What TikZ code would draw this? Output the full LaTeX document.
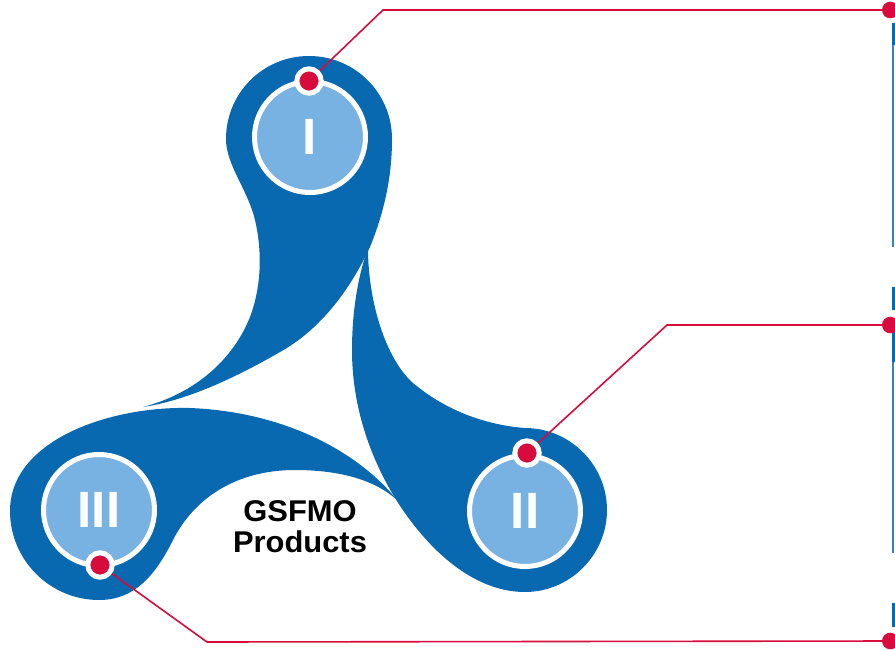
\documentclass[tikz,border=0pt]{standalone}
\usepackage{fontspec}
\setmainfont{Liberation Sans}
\definecolor{dblue}{HTML}{0869B0}
\definecolor{lblue}{HTML}{78B2E3}
\definecolor{rred}{HTML}{D80C3C}
\definecolor{tblue}{HTML}{3583C6}
\begin{document}
\begin{tikzpicture}[x=1pt,y=-1pt,
  drop/.style={fill=dblue},
  numc/.style={circle,fill=lblue,draw=white,line width=5pt,minimum size=111pt,inner sep=0pt,text=white,font=\fontsize{51}{51}\selectfont\bfseries},
  reddot/.style={circle,fill=rred,draw=white,line width=5pt,minimum size=24.4pt,inner sep=0pt},
  enddot/.style={circle,fill=rred,minimum size=16.6pt,inner sep=0pt},
  leader/.style={draw=rred,line width=1.6pt},
  lbl/.style={font=\fontsize{30}{30}\selectfont\bfseries,anchor=base,inner sep=0pt},
  thickbar/.style={fill=dblue},
  thinbar/.style={fill=tblue}]
\useasboundingbox (0,0) rectangle (895,649);
% teardrop I
\fill[drop] (143,407) .. controls (200,392) and (235,355) .. (250,317)
  .. controls (262,285) and (262,250) .. (255,220)
  .. controls (248,190) and (226,165) .. (226,139)
  .. controls (226,93) and (263,56) .. (309,56)
  .. controls (355,56) and (392,93) .. (392,139)
  .. controls (392,180) and (383,215) .. (370,247)
  .. controls (350,290) and (320,330) .. (280,352)
  .. controls (240,375) and (190,400) .. (143,407) -- cycle;
% teardrop II
\fill[drop] (368,248) .. controls (368,300) and (385,358) .. (413,383)
  .. controls (445,410) and (485,425) .. (525,428)
  .. controls (570,428) and (607,465) .. (607,510)
  .. controls (607,555) and (570,592) .. (525,592)
  .. controls (480,592) and (440,560) .. (410,520)
  .. controls (380,480) and (352,420) .. (352,350)
  .. controls (352,305) and (360,270) .. (368,248) -- cycle;
% teardrop III
\fill[drop] (397,500) .. controls (362,456) and (290,412) .. (190,408)
  .. controls (110,406) and (10,440) .. (10,511)
  .. controls (10,560) and (50,600) .. (99,600)
  .. controls (135,600) and (155,575) .. (172,542)
  .. controls (195,495) and (240,470) .. (295,470)
  .. controls (340,470) and (375,480) .. (397,500) -- cycle;
% right edge bars
\fill[thickbar] (892,23) rectangle (895,45);
\fill[thinbar] (892.3,45) rectangle (894.3,247);
\fill[thickbar] (892,287) rectangle (895,310);
\fill[thickbar] (892,332) rectangle (895,362);
\fill[thinbar] (892.3,362) rectangle (894.3,553);
\fill[thickbar] (892,603) rectangle (895,627);
% anchor points
\coordinate (p1) at (309,81);
\coordinate (k1) at (383,10);
\coordinate (q1) at (890.3,10);
\coordinate (p2) at (527,453);
\coordinate (k2) at (667,325);
\coordinate (q2) at (890.3,325);
\coordinate (p3) at (100,565);
\coordinate (k3) at (207,642);
\coordinate (q3) at (890.3,641);
% leaders
\draw[leader] (p1) -- (k1) -- (q1);
\draw[leader] (p2) -- (k2) -- (q2);
\draw[leader] (p3) -- (k3) -- (q3);
\node[enddot] (e1) at (q1) {};
\node[enddot] (e2) at (q2) {};
\node[enddot] (e3) at (q3) {};
% circles
\node[numc] (c1) at (310,137) {I};
\node[numc] (c2) at (525,511) {II};
\node[numc] (c3) at (99,510) {III};
\node[reddot] (d1) at (p1) {};
\node[reddot] (d2) at (p2) {};
\node[reddot] (d3) at (p3) {};
% centre label
\node[lbl] (t1) at (300,521) {\scalebox{1.03}[1]{GSFMO}};
\node[lbl] (t2) at (300,552) {\scalebox{1.03}[1]{Products}};
\end{tikzpicture}
\end{document}
